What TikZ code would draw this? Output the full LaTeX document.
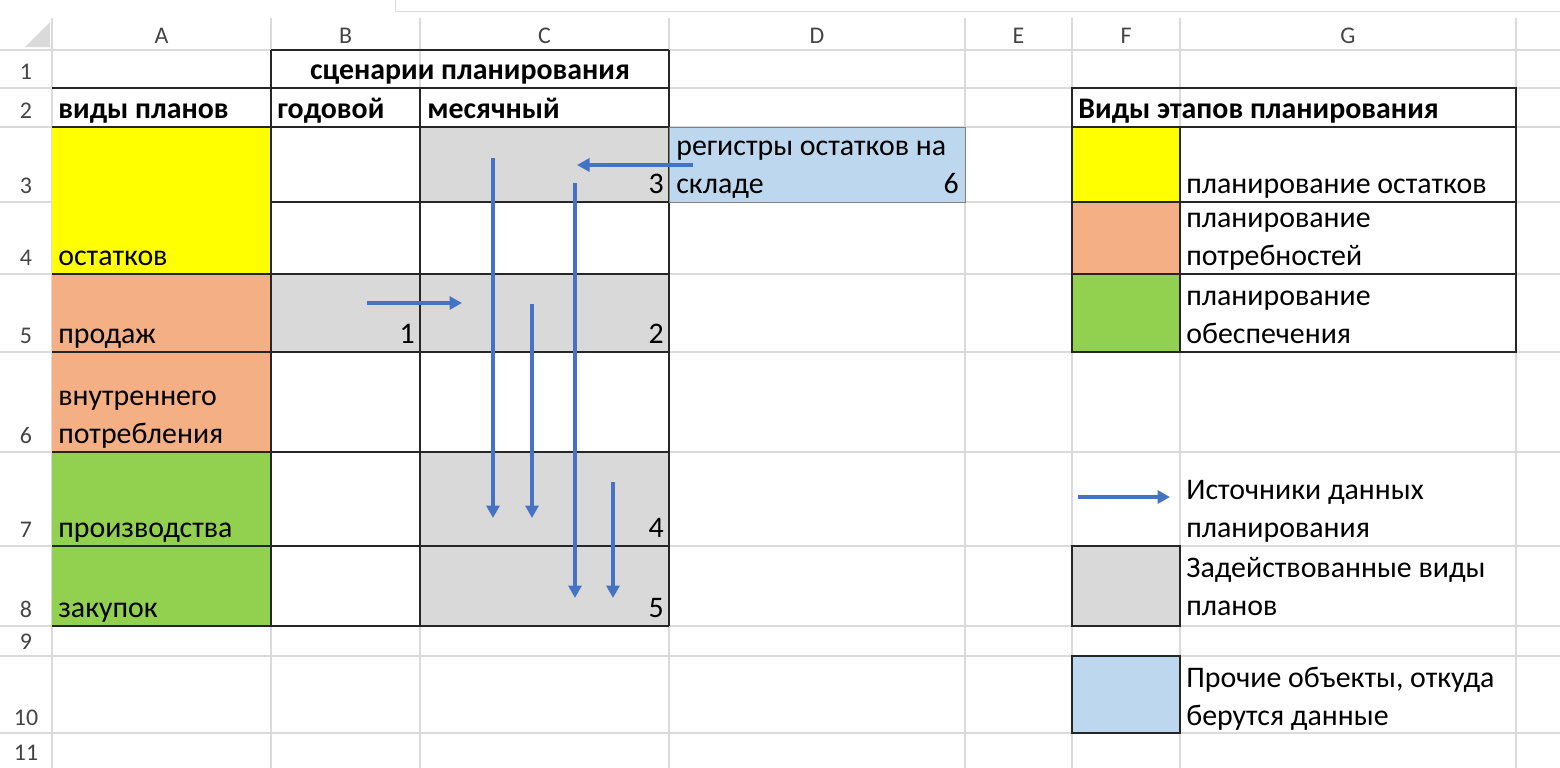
\documentclass[tikz,border=0pt]{standalone}
\usepackage{fontspec}
\setmainfont{Carlito}
\usepackage{tikz}
\usetikzlibrary{arrows.meta}

\definecolor{plyellow}{HTML}{FFFF00}
\definecolor{plsalmon}{HTML}{F4B084}
\definecolor{plgreen}{HTML}{92D050}
\definecolor{plgray}{HTML}{D9D9D9}
\definecolor{plblue}{HTML}{BDD7EE}
\definecolor{gridgray}{HTML}{DADADA}
\definecolor{headgray}{HTML}{444444}
\definecolor{bordergray}{HTML}{262626}
\definecolor{arrowblue}{HTML}{4472C4}

\newcommand\cellfont{\fontsize{17}{21.6}\selectfont}
\newcommand\headfont{\fontsize{13.6}{16}\selectfont}

\begin{document}
\begin{tikzpicture}[x=0.02cm, y=-0.02cm,
  grid line/.style={draw=gridgray, line width=0.6pt},
  border/.style={draw=bordergray, line width=0.8pt},
  thick border/.style={draw=bordergray, line width=1.3pt},
  txt/.style={anchor=base west, inner sep=0pt, font=\cellfont},
  num/.style={anchor=base east, inner sep=0pt, font=\cellfont},
  head/.style={anchor=base, inner sep=0pt, font=\headfont, text=headgray},
  flow/.style={draw=arrowblue, line width=2pt, -{Triangle[length=0.25cm, width=0.26cm]}}]

\useasboundingbox (0,0) rectangle (1560,768);

% formula bar and corner
\draw[draw=gridgray] (395,-5) -- (395,11) -- (1570,11);
\fill[gridgray] (25,47) -- (50,47) -- (50,22) -- cycle;

% sheet grid
\foreach \x in {52,271,420,669,965,1072,1180,1516}
  \draw[grid line] (\x,18) -- (\x,768);
\foreach \y in {50,88,127,202,274,352,452,546,626,656,733}
  \draw[grid line] (0,\y) -- (1560,\y);

% cell fills
\fill[plyellow] (52,127) rectangle (271,274);
\fill[plsalmon] (52,274) rectangle (271,452);
\fill[plgreen] (52,452) rectangle (271,626);
\fill[plgray] (420,127) rectangle (669,202);
\fill[plgray] (271,274) rectangle (669,352);
\fill[plgray] (420,452) rectangle (669,626);
\fill[plblue] (669,127) rectangle (965,202);
\fill[plyellow] (1072,127) rectangle (1180,202);
\fill[plsalmon] (1072,202) rectangle (1180,274);
\fill[plgreen] (1072,274) rectangle (1180,352);
\fill[plgray] (1072,546) rectangle (1180,626);
\fill[plblue] (1072,656) rectangle (1180,733);

% column letters and row numbers
\foreach \c/\x in {A/161.5,B/345.5,C/544.5,D/817,E/1018.5,F/1126,G/1348}
  \node[head] (col\c) at (\x,43) {\c};
\foreach \r/\y in {1/79,2/118,3/193,4/265,5/343,6/443,7/537,8/617,9/649,10/725,11/760}
  \node[head] (row\r) at (26,\y) {\r};

% table borders
\foreach \y in {88,274,352,452,546}
  \draw[border] (52,\y) -- (669,\y);
\draw[border] (271,50) -- (669,50);
\draw[border] (271,202) -- (669,202);
\draw[thick border] (52,127) -- (669,127);
\draw[thick border] (52,626) -- (669,626);
\draw[border] (271,50) -- (271,626);
\draw[border] (420,88) -- (420,626);
\draw[border] (669,50) -- (669,626);
\draw[draw=gray] (669,127) rectangle (965,202);

% legend borders
\draw[border] (1072,88) rectangle (1516,352);
\draw[border] (1072,127) -- (1516,127);
\draw[border] (1072,202) -- (1516,202);
\draw[border] (1072,274) -- (1516,274);
\draw[border] (1180,127) -- (1180,352);
\draw[border] (1072,546) rectangle (1180,626);
\draw[border] (1072,656) rectangle (1180,733);

% table texts
\node[txt, anchor=base, font=\cellfont\bfseries] (scen) at (470,79) {сценарии планирования};
\node[txt, font=\cellfont\bfseries] (plans) at (58,118) {виды планов};
\node[txt, font=\cellfont\bfseries] (year) at (277,118) {годовой};
\node[txt, font=\cellfont\bfseries] (month) at (427,118) {месячный};
\node[txt] (rest) at (58,265) {остатков};
\node[txt] (sales) at (58,343) {продаж};
\node[txt] (innerA) at (58,405) {внутреннего};
\node[txt] (innerB) at (58,443) {потребления};
\node[txt] (prod) at (58,537) {производства};
\node[txt] (purch) at (58,617) {закупок};
\node[num] (n1) at (415,343) {1};
\node[num] (n2) at (664,343) {2};
\node[num] (n3) at (664,193) {3};
\node[num] (n4) at (664,537) {4};
\node[num] (n5) at (664,617) {5};
\node[txt] (regA) at (676,155) {регистры остатков на};
\node[txt] (regB) at (676,193) {складе};
\node[num] (n6) at (959,193) {6};

% legend texts
\node[txt, font=\cellfont\bfseries] (kinds) at (1078,118) {Виды этапов планирования};
\node[txt] (kRest) at (1186,193) {планирование остатков};
\node[txt] (kNeedA) at (1186,227) {планирование};
\node[txt] (kNeedB) at (1186,265) {потребностей};
\node[txt] (kSupA) at (1186,305) {планирование};
\node[txt] (kSupB) at (1186,343) {обеспечения};
\node[txt] (kSrcA) at (1186,499) {Источники данных};
\node[txt] (kSrcB) at (1186,537) {планирования};
\node[txt] (kUsedA) at (1186,577) {Задействованные виды};
\node[txt] (kUsedB) at (1186,615) {планов};
\node[txt] (kOthA) at (1186,687) {Прочие объекты, откуда};
\node[txt] (kOthB) at (1186,725) {берутся данные};

% data flows
\coordinate (yS) at (367,303);  \coordinate (yE) at (462,303);
\coordinate (gS) at (693,165);  \coordinate (gE) at (577,165);
\coordinate (aS) at (493,158);  \coordinate (aE) at (493,518);
\coordinate (bS) at (532,304);  \coordinate (bE) at (532,518);
\coordinate (cS) at (575,183);  \coordinate (cE) at (575,598);
\coordinate (dS) at (613,482);  \coordinate (dE) at (613,598);
\coordinate (kS) at (1078,497); \coordinate (kE) at (1170,497);

\draw[flow] (yS) -- (yE);
\draw[flow] (gS) -- (gE);
\draw[flow] (aS) -- (aE);
\draw[flow] (bS) -- (bE);
\draw[flow] (cS) -- (cE);
\draw[flow] (dS) -- (dE);
\draw[flow] (kS) -- (kE);
\end{tikzpicture}
\end{document}
